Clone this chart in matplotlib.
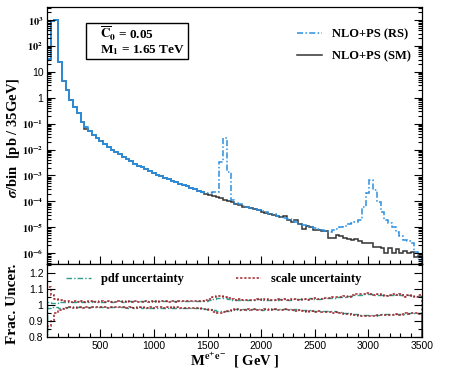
import numpy as np
import matplotlib
matplotlib.use("Agg")
import matplotlib.pyplot as plt
from matplotlib.patches import Rectangle
from matplotlib.ticker import FixedLocator, MultipleLocator, FuncFormatter, LogLocator, NullFormatter

# binning: 35 GeV bins from 0 to 3500 GeV
bin_width = 35
n_bins = 100

# log10(sigma/bin), SM (NLO+PS)
sm_log10 = [
    1.50, 2.95, 3.00, 1.38, 0.64, 0.30, -0.09, -0.35, -0.60, -0.93,
    -1.20, -1.30, -1.42, -1.55, -1.67, -1.78, -1.92, -2.01, -2.10, -2.19,
    -2.28, -2.37, -2.46, -2.54, -2.62, -2.69, -2.76, -2.83, -2.90, -2.97,
    -3.03, -3.09, -3.15, -3.21, -3.27, -3.33, -3.37, -3.42, -3.48, -3.54,
    -3.59, -3.64, -3.70, -3.76, -3.80, -3.85, -3.89, -3.94, -3.98, -4.04,
    -4.10, -4.14, -4.20, -4.23, -4.27, -4.31, -4.35, -4.40, -4.45, -4.48,
    -4.53, -4.57, -4.62, -4.58, -4.72, -4.80, -4.74, -4.88, -5.05, -4.95,
    -5.00, -5.12, -5.10, -5.15, -5.16, -5.43, -5.40, -5.30, -5.32, -5.40,
    -5.45, -5.49, -5.47, -5.55, -5.60, -5.62, -5.62, -5.78, -5.78, -5.80,
    -6.01, -5.80, -6.01, -5.85, -6.01, -5.90, -6.01, -5.95, -6.14, -6.10,
]

# log10(sigma/bin), RS (NLO+PS), resonances near 1.65 TeV and 3 TeV
rs_log10 = [
    1.50, 2.95, 3.00, 1.38, 0.64, 0.30, -0.09, -0.35, -0.60, -0.93,
    -1.12, -1.30, -1.42, -1.55, -1.67, -1.78, -1.92, -2.01, -2.10, -2.19,
    -2.28, -2.37, -2.46, -2.54, -2.62, -2.69, -2.76, -2.83, -2.90, -2.97,
    -3.03, -3.09, -3.15, -3.21, -3.27, -3.33, -3.37, -3.42, -3.48, -3.54,
    -3.59, -3.64, -3.68, -3.66, -3.64, -3.63, -2.47, -1.57, -2.86, -3.95,
    -4.05, -4.12, -4.18, -4.23, -4.27, -4.31, -4.35, -4.39, -4.43, -4.47,
    -4.50, -4.55, -4.60, -4.64, -4.70, -4.76, -4.80, -4.86, -4.92, -4.96,
    -5.00, -5.04, -5.08, -5.12, -5.16, -5.17, -5.12, -5.05, -5.00, -4.95,
    -4.88, -4.85, -4.80, -4.72, -4.21, -3.69, -3.18, -3.56, -4.01, -4.40,
    -4.72, -4.85, -4.98, -5.17, -5.35, -5.49, -5.55, -5.62, -5.94, -6.25,
]

# fractional uncertainties (upper / lower edges of the bands)
pdf_up = [
    1.020, 1.015, 1.015, 1.020, 1.020, 1.020, 1.021, 1.020, 1.022, 1.020,
    1.021, 1.020, 1.022, 1.021, 1.020, 1.021, 1.022, 1.020, 1.023, 1.022,
    1.021, 1.023, 1.022, 1.024, 1.022, 1.023, 1.024, 1.022, 1.025, 1.023,
    1.024, 1.022, 1.025, 1.024, 1.023, 1.025, 1.024, 1.026, 1.024, 1.025,
    1.027, 1.025, 1.026, 1.030, 1.035, 1.045, 1.045, 1.042, 1.038, 1.033,
    1.030, 1.032, 1.030, 1.028, 1.033, 1.030, 1.035, 1.032, 1.030, 1.034,
    1.032, 1.033, 1.035, 1.036, 1.034, 1.036, 1.040, 1.037, 1.035, 1.040,
    1.042, 1.038, 1.040, 1.043, 1.045, 1.042, 1.046, 1.048, 1.052, 1.050,
    1.055, 1.058, 1.062, 1.065, 1.066, 1.068, 1.066, 1.062, 1.063, 1.060,
    1.062, 1.063, 1.060, 1.066, 1.062, 1.058, 1.060, 1.056, 1.058, 1.055,
]
pdf_dn = [
    0.980, 0.985, 0.985, 0.982, 0.982, 0.985, 0.986, 0.985, 0.986, 0.985,
    0.986, 0.985, 0.986, 0.985, 0.986, 0.985, 0.985, 0.986, 0.985, 0.985,
    0.985, 0.984, 0.985, 0.984, 0.985, 0.984, 0.984, 0.983, 0.984, 0.983,
    0.983, 0.984, 0.982, 0.983, 0.982, 0.983, 0.982, 0.981, 0.982, 0.981,
    0.981, 0.980, 0.978, 0.974, 0.968, 0.962, 0.960, 0.962, 0.965, 0.968,
    0.972, 0.970, 0.973, 0.971, 0.974, 0.972, 0.973, 0.971, 0.974, 0.972,
    0.975, 0.973, 0.975, 0.972, 0.974, 0.971, 0.972, 0.969, 0.968, 0.966,
    0.966, 0.964, 0.965, 0.962, 0.963, 0.961, 0.960, 0.958, 0.956, 0.953,
    0.950, 0.947, 0.944, 0.940, 0.937, 0.935, 0.936, 0.938, 0.940, 0.942,
    0.941, 0.943, 0.942, 0.945, 0.947, 0.946, 0.949, 0.951, 0.950, 0.952,
]
scale_up = [
    1.110, 1.060, 1.035, 1.030, 1.025, 1.022, 1.020, 1.023, 1.021, 1.022,
    1.020, 1.023, 1.021, 1.019, 1.022, 1.020, 1.022, 1.019, 1.021, 1.023,
    1.020, 1.022, 1.020, 1.023, 1.021, 1.019, 1.022, 1.021, 1.024, 1.020,
    1.022, 1.024, 1.021, 1.023, 1.020, 1.024, 1.022, 1.025, 1.022, 1.024,
    1.026, 1.023, 1.028, 1.035, 1.048, 1.055, 1.058, 1.052, 1.045, 1.038,
    1.032, 1.036, 1.030, 1.034, 1.028, 1.033, 1.037, 1.031, 1.035, 1.029,
    1.034, 1.039, 1.032, 1.036, 1.030, 1.040, 1.035, 1.032, 1.038, 1.034,
    1.037, 1.043, 1.036, 1.040, 1.046, 1.042, 1.048, 1.052, 1.047, 1.055,
    1.052, 1.060, 1.066, 1.070, 1.068, 1.072, 1.066, 1.062, 1.066, 1.060,
    1.058, 1.064, 1.070, 1.062, 1.066, 1.052, 1.064, 1.056, 1.050, 1.060,
]
scale_dn = [
    0.870, 0.900, 0.950, 0.970, 0.978, 0.982, 0.985, 0.983, 0.986, 0.984,
    0.987, 0.984, 0.986, 0.988, 0.985, 0.987, 0.984, 0.986, 0.988, 0.985,
    0.987, 0.984, 0.986, 0.983, 0.986, 0.988, 0.984, 0.986, 0.983, 0.985,
    0.987, 0.984, 0.986, 0.983, 0.985, 0.982, 0.984, 0.981, 0.983, 0.980,
    0.982, 0.978, 0.975, 0.966, 0.956, 0.950, 0.948, 0.955, 0.962, 0.968,
    0.972, 0.966, 0.970, 0.974, 0.968, 0.972, 0.966, 0.970, 0.973, 0.967,
    0.972, 0.968, 0.971, 0.974, 0.967, 0.970, 0.964, 0.968, 0.962, 0.958,
    0.962, 0.956, 0.960, 0.954, 0.958, 0.955, 0.951, 0.954, 0.950, 0.946,
    0.944, 0.940, 0.936, 0.932, 0.930, 0.931, 0.934, 0.932, 0.936, 0.938,
    0.935, 0.940, 0.937, 0.943, 0.940, 0.948, 0.942, 0.950, 0.953, 0.947,
]

box_lines = [r"$\overline{\mathbf{C}}_{\mathbf{0}}$ = 0.05", r"M$_{\mathbf{1}}$ = 1.65 TeV"]
log_ticks = [1e-6, 1e-5, 1e-4, 1e-3, 1e-2, 1e-1, 1, 10, 1e2, 1e3]
ratio_ticks = [0.8, 0.9, 1.0, 1.1, 1.2]

plt.rcParams['font.family'] = ['Liberation Serif', 'DejaVu Serif']
plt.rcParams['mathtext.fontset'] = 'stix'
plt.rcParams['font.weight'] = 'bold'

col_rs = '#2a8fe0'
col_sm = '#333333'
col_pdf = '#2f9e8c'
col_scale = '#a0222a'
rs_dash = (0, (4, 1.5, 1, 1.5))

edges = np.arange(n_bins + 1) * bin_width
sm = 10.0 ** np.array(sm_log10)
rs = 10.0 ** np.array(rs_log10)

fig = plt.figure(figsize=(4.74, 3.75), dpi=100)
ax1 = fig.add_axes([0.099, 0.296, 0.791, 0.685])
ax2 = fig.add_axes([0.099, 0.101, 0.791, 0.195], sharex=ax1)

ax1.stairs(sm, edges, baseline=1e-9, color=col_sm, lw=1.1, label='NLO+PS (SM)')
ax1.stairs(rs, edges, baseline=1e-9, color=col_rs, lw=1.1, linestyle=rs_dash, label='NLO+PS (RS)')
# RS and SM agree at low mass, the blue line looks solid there
ax1.stairs(rs[:42], edges[:43], baseline=None, color=col_rs, lw=1.1)

ax1.set_yscale('log')
ax1.set_xlim(0, 3500)
ax1.set_ylim(10 ** -6.42, 10 ** 3.5)


def log_fmt(v, pos):
    e = int(round(np.log10(v)))
    if e == 0:
        return '1'
    if e == 1:
        return '10'
    return r'$10^{%d}$' % e


ax1.yaxis.set_major_locator(FixedLocator(log_ticks))
ax1.yaxis.set_minor_locator(LogLocator(base=10, subs=np.arange(2, 10), numticks=20))
ax1.yaxis.set_major_formatter(FuncFormatter(log_fmt))
ax1.yaxis.set_minor_formatter(NullFormatter())
ax1.set_ylabel(r'$\sigma$/bin  [pb / 35GeV]', fontsize=10.5, fontweight='bold')
ax1.yaxis.set_label_coords(-0.066, 0.49)

handles, labels = ax1.get_legend_handles_labels()
ax1.legend(handles[::-1], labels[::-1], loc='upper right', bbox_to_anchor=(1.0, 0.96),
           frameon=False, fontsize=9, handlelength=2.0, labelspacing=0.8)

# parameter box
ax1.add_patch(Rectangle((0.104, 0.798), 0.272, 0.14, transform=ax1.transAxes,
                        fc='white', ec='black', lw=1.0, zorder=5))
ax1.text(0.141, 0.897, box_lines[0], transform=ax1.transAxes, fontsize=9.5,
         va='center', ha='left', zorder=6)
ax1.text(0.141, 0.832, box_lines[1], transform=ax1.transAxes, fontsize=9.5,
         va='center', ha='left', zorder=6)

# bottom panel
ax2.stairs(pdf_up, edges, color=col_pdf, lw=1.0, linestyle=rs_dash, label='pdf uncertainty')
ax2.stairs(pdf_dn, edges, color=col_pdf, lw=1.0, linestyle=rs_dash)
ax2.stairs(scale_up, edges, color=col_scale, lw=1.1, linestyle=(0, (1.5, 1.2)), label='scale uncertainty')
ax2.stairs(scale_dn, edges, color=col_scale, lw=1.1, linestyle=(0, (1.5, 1.2)))
ax2.set_ylim(0.8, 1.255)
ax2.yaxis.set_major_locator(FixedLocator(ratio_ticks))
ax2.yaxis.set_major_formatter(FuncFormatter(lambda v, p: '1' if abs(v - 1) < 1e-9 else '%.1f' % v))
ax2.yaxis.set_minor_locator(MultipleLocator(0.05))
ax2.set_ylabel('Frac. Uncer.', fontsize=11, fontweight='bold')
ax2.yaxis.set_label_coords(-0.075, 0.45)
ax2.legend(loc='upper center', bbox_to_anchor=(0.445, 1.03), ncol=2, frameon=False, fontsize=9,
           handlelength=2.0, columnspacing=4.2)

ax2.xaxis.set_major_locator(MultipleLocator(500))
ax2.xaxis.set_minor_locator(MultipleLocator(100))
ax2.xaxis.set_major_formatter(FuncFormatter(lambda v, p: '' if v == 0 else '%d' % v))
ax2.set_xlabel(r'M$^{\mathbf{e^{+}e^{-}}}$  [ GeV ]', fontsize=10.5, fontweight='bold', labelpad=0)
plt.setp(ax1.get_xticklabels(), visible=False)

for ax in (ax1, ax2):
    ax.tick_params(which='both', direction='in', right=True, top=False, width=0.8, pad=2.5)
    ax.tick_params(which='major', length=6)
    ax.tick_params(which='minor', length=3)
    for lab in ax.get_xticklabels() + ax.get_yticklabels():
        lab.set_fontfamily('Liberation Sans')
        lab.set_fontweight('normal')
        lab.set_fontsize(7.5)
    for s in ax.spines.values():
        s.set_linewidth(0.9)

fig.savefig('out.png', dpi=100)
